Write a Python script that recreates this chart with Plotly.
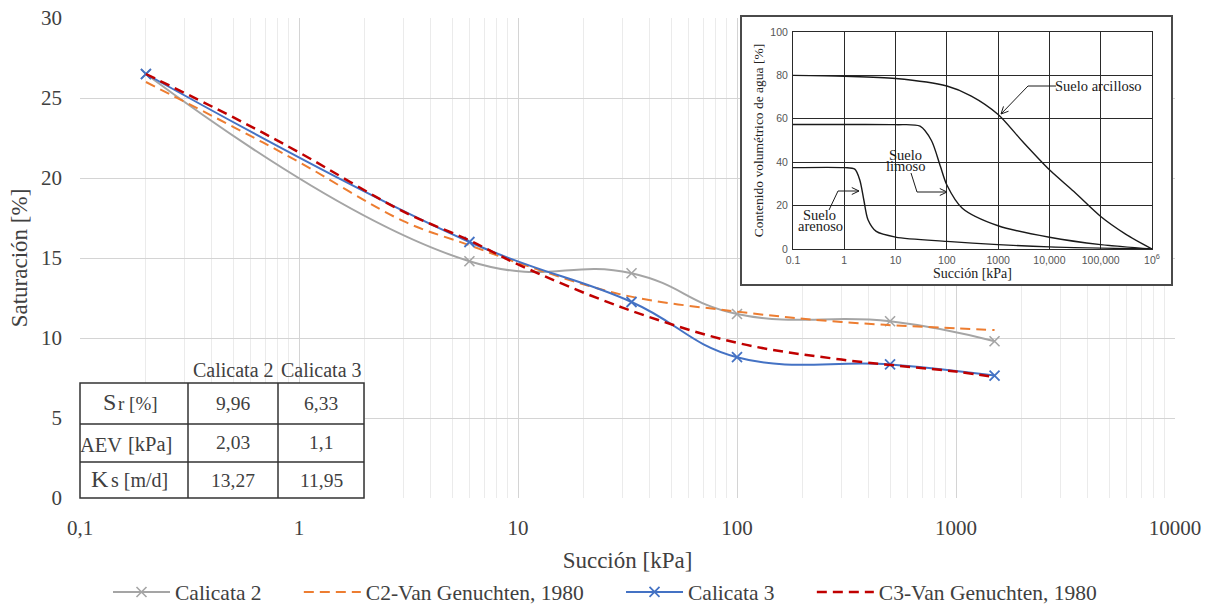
import math
import plotly.graph_objects as go

# ---- measured retention data (suction in kPa, saturation in %) ----
suction_obs = [0.2, 6, 33, 100, 500, 1500]
sat_calicata2 = [26.5, 14.8, 14.05, 11.5, 11.05, 9.8]
sat_calicata3 = [26.5, 16.0, 12.25, 8.8, 8.35, 7.65]

# ---- Van Genuchten (1980) fitted curves ----
suction_vg = [0.2, 0.5, 1, 3, 6, 10, 30, 100, 300, 1000, 1500]
sat_vg_c2 = [26.0, 23.2, 21.0, 17.3, 15.8, 14.7, 12.7, 11.65, 11.0, 10.6, 10.5]
sat_vg_c3 = [26.5, 23.8, 21.6, 17.9, 16.1, 14.6, 11.9, 9.7, 8.65, 7.9, 7.55]

# ---- axis ticks ----
x_tickvals = [0.1, 1, 10, 100, 1000, 10000]
x_ticktext = ["0,1", "1", "10", "100", "1000", "10000"]

# ---- parameter table ----
table_cols = ["Calicata 2", "Calicata 3"]
table_sym = ["S", "AEV", "K"]
table_unit = ["r [%]", "[kPa]", "s [m/d]"]
table_c2 = ["9,96", "2,03", "13,27"]
table_c3 = ["6,33", "1,1", "11,95"]

# ---- typical soil-water characteristic curves (inset) ----
clay_x = [0.1, 1, 10, 100, 300, 1000, 3000, 10000, 30000, 100000, 300000, 1000000]
clay_y = [80, 79.6, 78.6, 75.1, 70.5, 62.0, 49.5, 36.5, 26.5, 15.0, 7.0, 0]
silt_x = [0.1, 1, 10, 30, 50, 75, 100, 200, 1000, 10000, 100000, 1000000]
silt_y = [57.4, 57.4, 57.3, 56.6, 50.0, 38.0, 29.5, 18.8, 10.7, 5.4, 2.0, 0]
sand_x = [0.1, 1, 1.6, 2.0, 2.4, 2.9, 4.2, 10, 100, 1000, 10000, 1000000]
sand_y = [37.5, 37.5, 36.8, 31.9, 22.7, 13.5, 8.1, 5.5, 3.5, 2.0, 1.0, 0]
inset_xvals = [0.1, 1, 10, 100, 1000, 10000, 100000, 1000000]
inset_xtext = ["0.1", "1", "10", "100", "1000", "10,000", "100,000", "10<sup>6</sup>"]

SERIF = "Liberation Serif"
TXT = "#404040"
NB = "\u00a0" * 6  # spacing between legend entries

fig = go.Figure()

fig.add_trace(go.Scatter(
    x=suction_obs, y=sat_calicata2, name="Calicata 2" + NB, mode="lines+markers",
    line=dict(color="#a5a5a5", width=2, shape="spline", smoothing=1.3),
    marker=dict(symbol="x-thin-open", size=10, color="#a5a5a5",
                line=dict(color="#a5a5a5", width=1.6)),
    xaxis="x", yaxis="y"))
fig.add_trace(go.Scatter(
    x=suction_vg, y=sat_vg_c2, name="C2-Van Genuchten, 1980" + NB, mode="lines",
    line=dict(color="#ed7d31", width=2, dash="10px,6px", shape="spline", smoothing=1.0),
    xaxis="x", yaxis="y"))
fig.add_trace(go.Scatter(
    x=suction_obs, y=sat_calicata3, name="Calicata 3" + NB, mode="lines+markers",
    line=dict(color="#4472c4", width=2, shape="spline", smoothing=1.2),
    marker=dict(symbol="x-thin-open", size=10, color="#4472c4",
                line=dict(color="#4472c4", width=1.8)),
    xaxis="x", yaxis="y"))
fig.add_trace(go.Scatter(
    x=suction_vg, y=sat_vg_c3, name="C3-Van Genuchten, 1980", mode="lines",
    line=dict(color="#c00000", width=2.5, dash="10px,6px", shape="spline", smoothing=1.0),
    xaxis="x", yaxis="y"))

# empty trace that creates the framed panel holding the inset chart
fig.add_trace(go.Scatter(x=[None], y=[None], showlegend=False, hoverinfo="skip",
                         xaxis="x2", yaxis="y2"))

# inset curves
for cx, cy in [(clay_x, clay_y), (silt_x, silt_y), (sand_x, sand_y)]:
    fig.add_trace(go.Scatter(
        x=cx, y=cy, mode="lines", showlegend=False, hoverinfo="skip",
        line=dict(color="#1a1a1a", width=1.4, shape="spline", smoothing=0.8),
        xaxis="x3", yaxis="y3"))

# ---- layout geometry ----
W, H = 1211, 605
L, R, T, B = 80, 36, 17, 107
pw, ph = W - L - R, H - T - B


def px(xp):
    return (xp - L) / pw


def py(yp):
    return (H - B - yp) / ph


fig.update_layout(
    width=W, height=H,
    margin=dict(l=L, r=R, t=T, b=B, autoexpand=False),
    paper_bgcolor="white", plot_bgcolor="white",
    font=dict(family=SERIF, color=TXT, size=20),
    showlegend=True,
    legend=dict(orientation="h", x=px(108), xanchor="left", y=py(592), yanchor="middle",
                font=dict(family=SERIF, size=21.5, color=TXT), itemwidth=57,
                tracegroupgap=0, bgcolor="rgba(0,0,0,0)"),
    xaxis=dict(
        type="log", range=[-1, 4], domain=[0, 1], anchor="y", automargin=False,
        tickvals=x_tickvals, ticktext=x_ticktext, ticks="", ticklabelstandoff=15,
        showgrid=True, gridcolor="#d4d4d4", gridwidth=1.4,
        minor=dict(dtick="D1", showgrid=True, gridcolor="#ebebeb", gridwidth=1),
        zeroline=False, showline=False,
        tickfont=dict(family=SERIF, size=21, color=TXT),
        title=dict(text="Succión [kPa]", font=dict(family=SERIF, size=23, color=TXT), standoff=12),
    ),
    yaxis=dict(
        range=[0, 30], domain=[0, py(18)], anchor="x", dtick=5, automargin=False,
        showgrid=True, gridcolor="#d4d4d4", gridwidth=1.4, zeroline=False,
        ticks="", tickfont=dict(family=SERIF, size=21, color=TXT), ticklabelstandoff=17,
        title=dict(text="Saturación [%]", font=dict(family=SERIF, size=23, color=TXT), standoff=6),
    ),
    xaxis2=dict(domain=[px(742), px(1171)], anchor="y2", range=[0, 1], showgrid=False,
                zeroline=False, showticklabels=False, ticks="", showline=True, automargin=False,
                mirror=True, linecolor="#4a4a4a", linewidth=1.6, fixedrange=True),
    yaxis2=dict(domain=[py(284), 1.0], anchor="x2", range=[0, 1], showgrid=False,
                zeroline=False, showticklabels=False, ticks="", showline=True, automargin=False,
                mirror=True, linecolor="#4a4a4a", linewidth=1.6, fixedrange=True),
    xaxis3=dict(
        type="log", range=[-1, 6], domain=[px(793), px(1152)], anchor="y3", automargin=False,
        tickvals=inset_xvals, ticktext=inset_xtext, ticks="", ticklabelstandoff=1,
        showgrid=True, gridcolor="#2a2a2a", gridwidth=1, zeroline=False,
        showline=True, mirror=True, linecolor="#2a2a2a", linewidth=1,
        tickfont=dict(family="Liberation Sans", size=10.5, color="#555"),
        title=dict(text="Succión [kPa]", font=dict(family=SERIF, size=14, color="#222"), standoff=1),
    ),
    yaxis3=dict(
        range=[0, 100], dtick=20, domain=[py(249), py(32)], anchor="x3", automargin=False,
        showgrid=True, gridcolor="#2a2a2a", gridwidth=1, zeroline=False,
        showline=True, mirror=True, linecolor="#2a2a2a", linewidth=1, ticks="",
        tickfont=dict(family="Liberation Sans", size=10.5, color="#555"), ticklabelstandoff=2,
        title=dict(text="Contenido volumétrico de agua [%]",
                   font=dict(family=SERIF, size=13.5, color="#222"), standoff=3),
    ),
)

# ---- parameter table drawn in paper coordinates ----
col_px = [80, 188, 278, 364]
row_px = [383, 424, 462, 498]
col_edges = [px(v) for v in col_px]
row_edges = [py(v) for v in row_px]
shapes = [dict(type="rect", xref="paper", yref="paper", layer="above",
               x0=col_edges[0], x1=col_edges[-1], y0=row_edges[-1], y1=row_edges[0],
               fillcolor="white", line=dict(color="#333333", width=1.5))]
for cx in col_edges[1:-1]:
    shapes.append(dict(type="line", xref="paper", yref="paper", layer="above",
                       x0=cx, x1=cx, y0=row_edges[-1], y1=row_edges[0],
                       line=dict(color="#333333", width=1.5)))
for ry in row_edges[1:-1]:
    shapes.append(dict(type="line", xref="paper", yref="paper", layer="above",
                       x0=col_edges[0], x1=col_edges[-1], y0=ry, y1=ry,
                       line=dict(color="#333333", width=1.5)))


def label(x, y, text, size, color=TXT, xa="center", ya="middle"):
    return dict(xref="paper", yref="paper", x=x, y=y, text=text, showarrow=False,
                xanchor=xa, yanchor=ya, font=dict(family=SERIF, size=size, color=color))


annotations = []
col_mid = [(col_edges[i] + col_edges[i + 1]) / 2 for i in range(3)]
row_mid = [(row_edges[i] + row_edges[i + 1]) / 2 for i in range(3)]
for j, name in enumerate(table_cols):
    annotations.append(label(col_mid[j + 1], py(370), name, 20))
# row headers: large symbol followed by a smaller unit, sharing a baseline
sym_right = [118, 124, 111]
unit_left = [116, 126, 109]
base_px = [417, 458, 494]
sym_size = [24, 20.5, 24]
unit_size = [19, 20.5, 20]
for i in range(3):
    annotations.append(label(px(sym_right[i]), py(base_px[i]), table_sym[i], sym_size[i],
                             xa="right", ya="bottom"))
    annotations.append(label(px(unit_left[i]), py(base_px[i] - 1), table_unit[i], unit_size[i],
                             xa="left", ya="bottom"))
    annotations.append(label(col_mid[1], row_mid[i], table_c2[i], 19.5))
    annotations.append(label(col_mid[2], row_mid[i], table_c3[i], 19.5))

# ---- inset labels with elbow leaders and arrowheads ----
ink = "#1a1a1a"
inset_labels = [("Suelo arcilloso", 1098, 86), ("Suelo", 905, 155), ("limoso", 905, 166),
                ("Suelo", 819, 215), ("arenoso", 820, 226)]
for txt, lx, ly in inset_labels:
    annotations.append(label(px(lx), py(ly), txt, 14.5, color=ink))

leaders = [
    [(1056, 86), (1028, 86), (1001, 114)],
    [(911, 173), (917, 192), (947, 192)],
    [(829, 210), (838, 191), (859, 191)],
]


def seg(p, q):
    return dict(type="line", xref="paper", yref="paper", layer="above",
                x0=px(p[0]), y0=py(p[1]), x1=px(q[0]), y1=py(q[1]),
                line=dict(color=ink, width=1))


for pts in leaders:
    for a, b in zip(pts[:-1], pts[1:]):
        shapes.append(seg(a, b))
    (x1, y1), (x2, y2) = pts[-2], pts[-1]
    ang = math.atan2(y2 - y1, x2 - x1)
    for d in (0.45, -0.45):
        tip = (x2 - 8 * math.cos(ang + d), y2 - 8 * math.sin(ang + d))
        shapes.append(seg((x2, y2), tip))

fig.update_layout(shapes=shapes, annotations=annotations)

fig.write_html("out.html")
